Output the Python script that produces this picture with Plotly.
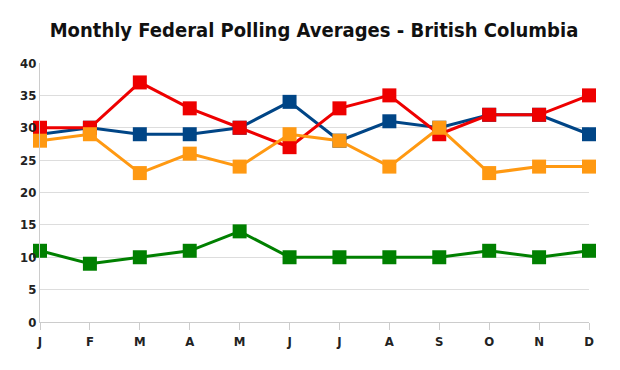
import plotly.graph_objects as go

months = ["J", "F", "M", "A", "M", "J", "J", "A", "S", "O", "N", "D"]
red = [30, 30, 37, 33, 30, 27, 33, 35, 29, 32, 32, 35]
blue = [29, 30, 29, 29, 30, 34, 28, 31, 30, 32, 32, 29]
orange = [28, 29, 23, 26, 24, 29, 28, 24, 30, 23, 24, 24]
green = [11, 9, 10, 11, 14, 10, 10, 10, 10, 11, 10, 11]
y_ticks = [0, 5, 10, 15, 20, 25, 30, 35, 40]

x = list(range(len(months)))
FONT = "DejaVu Sans Condensed"

fig = go.Figure()
for vals, col in [(green, "#008000"), (blue, "#004586"), (red, "#EE0000"), (orange, "#FF9912")]:
    fig.add_trace(go.Scatter(
        x=x, y=vals, mode="lines+markers",
        line=dict(color=col, width=3),
        marker=dict(symbol="square", size=14, color=col),
        cliponaxis=False, showlegend=False, hoverinfo="skip"))

fig.update_layout(
    width=612, height=362,
    margin=dict(l=32, r=31, t=55, b=48),
    paper_bgcolor="white", plot_bgcolor="white",
    title=dict(text="<b>Monthly Federal Polling Averages - British Columbia</b>",
               x=0.5, xanchor="center", y=0.939, yanchor="middle",
               font=dict(family=FONT, size=20, color="#111")),
    xaxis=dict(range=[0, 11], tickmode="array", tickvals=x, ticktext=months,
               showgrid=False, zeroline=False, showline=True, linecolor="#cccccc",
               ticks="outside", ticklen=7, tickcolor="#cccccc",
               tickfont=dict(family=FONT, size=13, color="#222", weight="bold")),
    yaxis=dict(range=[0, 40], tickmode="array", tickvals=y_ticks,
               showgrid=True, gridcolor="#dddddd", zeroline=False,
               showline=True, linecolor="#cccccc", ticks="",
               tickfont=dict(family=FONT, size=13, color="#222", weight="bold")),
)
fig.write_html("out.html")
